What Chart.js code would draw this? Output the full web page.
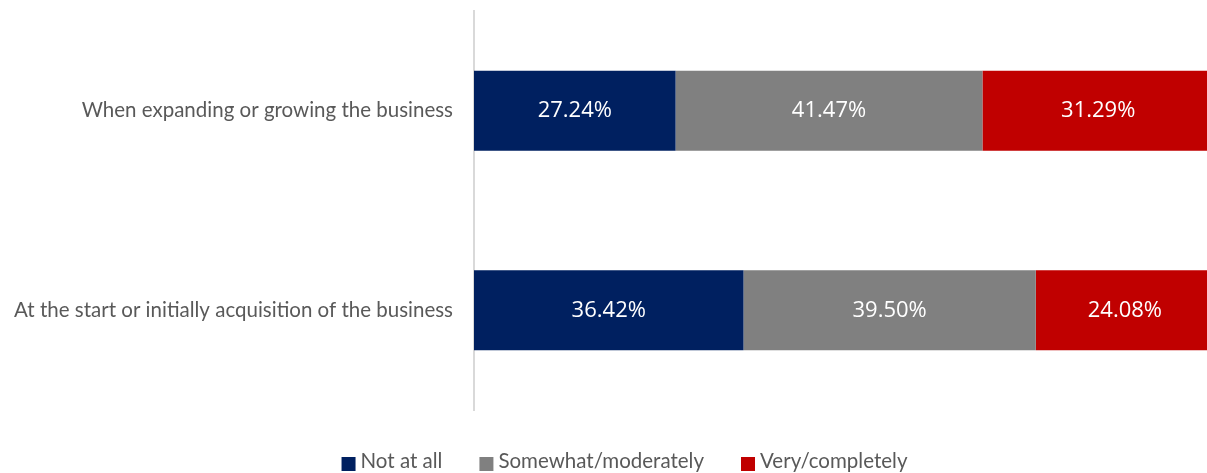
<!DOCTYPE html>
<html>
<head>
<meta charset="utf-8">
<script src="https://cdn.jsdelivr.net/npm/chart.js@4.4.1/dist/chart.umd.min.js"></script>
<style>
  html, body { margin: 0; padding: 0; background: #ffffff; overflow: hidden; }
  #wrap { width: 1207px; height: 473px; position: relative; overflow: hidden; }
  #c { display: block; }
</style>
</head>
<body>
<div id="wrap"><canvas id="c" width="1214" height="473"></canvas></div>
<script>
// Survey categories and response shares (percent)
const categories = [
  "When expanding or growing the business",
  "At the start or initially acquisition of the business"
];
const seriesNames = ["Not at all", "Somewhat/moderately", "Very/completely"];
const notAtAll = [27.24, 36.42];
const somewhat = [41.47, 39.50];
const veryCompletely = [31.29, 24.08];
const seriesColors = ["#002060", "#808080", "#C00000"];

const labelFont = "Lato, 'Open Sans', sans-serif";

// Writes each segment's value in the middle of its bar
const valueLabels = {
  id: "valueLabels",
  afterDatasetsDraw(chart) {
    const ctx = chart.ctx;
    ctx.save();
    ctx.fillStyle = "#ffffff";
    ctx.font = "22px 'Open Sans', sans-serif";
    ctx.textAlign = "center";
    ctx.textBaseline = "middle";
    chart.data.datasets.forEach((ds, i) => {
      const meta = chart.getDatasetMeta(i);
      meta.data.forEach((bar, j) => {
        const p = bar.getProps(["x", "base", "y"], true);
        ctx.fillText(ds.data[j].toFixed(2) + "%", (p.x + p.base) / 2, p.y);
      });
    });
    ctx.restore();
  }
};

// Legend row beneath the plot
const bottomLegend = {
  id: "bottomLegend",
  afterDraw(chart) {
    const ctx = chart.ctx;
    ctx.save();
    ctx.font = "20.5px " + labelFont;
    ctx.textBaseline = "middle";
    const box = 14, gapBoxText = 5, gapItems = 37;
    const widths = chart.data.datasets.map(ds => ctx.measureText(ds.label).width);
    let total = 0;
    widths.forEach((w, i) => { total += box + gapBoxText + w + (i < widths.length - 1 ? gapItems : 0); });
    let x = 624.5 - total / 2;
    const y = 461;
    chart.data.datasets.forEach((ds, i) => {
      ctx.fillStyle = ds.backgroundColor;
      ctx.fillRect(x, y - 4, box, box);
      x += box + gapBoxText;
      ctx.fillStyle = "#595959";
      ctx.fillText(ds.label, x, y);
      x += widths[i] + gapItems;
    });
    ctx.restore();
  }
};

new Chart(document.getElementById("c"), {
  type: "bar",
  data: {
    labels: categories,
    datasets: [
      { label: seriesNames[0], data: notAtAll, backgroundColor: seriesColors[0] },
      { label: seriesNames[1], data: somewhat, backgroundColor: seriesColors[1] },
      { label: seriesNames[2], data: veryCompletely, backgroundColor: seriesColors[2] }
    ]
  },
  options: {
    indexAxis: "y",
    responsive: false,
    animation: false,
    devicePixelRatio: 1,
    layout: { padding: { top: 11, bottom: 63, left: 0, right: 0 } },
    datasets: { bar: { categoryPercentage: 0.4, barPercentage: 1.0, borderWidth: 0 } },
    plugins: { legend: { display: false }, tooltip: { enabled: false } },
    scales: {
      x: {
        stacked: true, min: 0, max: 100, display: false
      },
      y: {
        stacked: true,
        grid: { display: false, drawTicks: false },
        border: { display: true, color: "#d9d9d9", width: 2 },
        ticks: { color: "#595959", font: { family: labelFont, size: 20.5 }, padding: 21 },
        afterFit(scale) {
          scale.width = 474;
          scale.paddingTop = 0;
          scale.paddingBottom = 0;
        }
      }
    }
  },
  plugins: [valueLabels, bottomLegend]
});
</script>
</body>
</html>
